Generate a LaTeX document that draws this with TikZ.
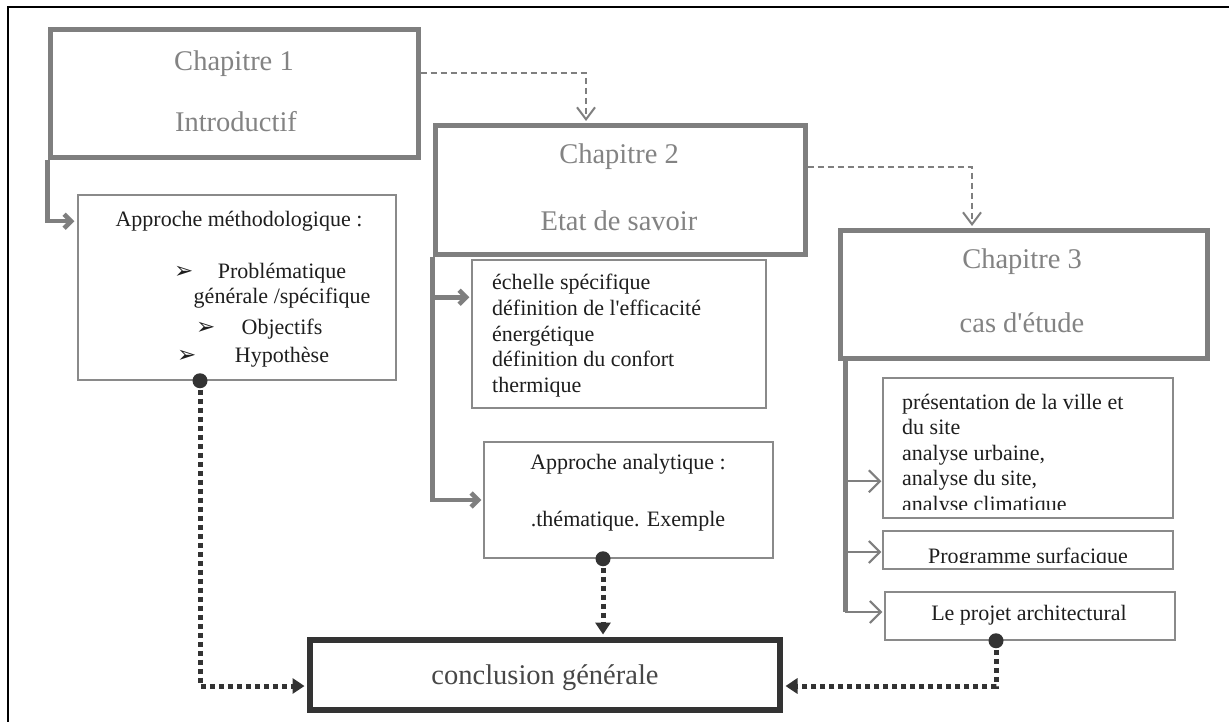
\documentclass[tikz,border=0pt]{standalone}
\usepackage{fontspec}
\setmainfont{Liberation Serif}
\newfontfamily\symfont{DejaVu Sans}
\usetikzlibrary{arrows.meta}
\definecolor{chapgray}{HTML}{7F7F7F}
\definecolor{titlegray}{HTML}{838383}
\definecolor{boxgray}{HTML}{8A8A8A}
\definecolor{inkdark}{HTML}{1E1E1E}
\definecolor{dotdark}{HTML}{333333}
\begin{document}
\begin{tikzpicture}[x=1pt,y=-1pt,
  chapbox/.style={draw=chapgray,line width=5pt,inner sep=0pt,fill=white},
  subbox/.style={draw=boxgray,line width=1.5pt,inner sep=0pt,fill=white},
  finalbox/.style={draw=dotdark,line width=5.5pt,inner sep=0pt,fill=white},
  chaptext/.style={font=\fontsize{28.5}{32}\selectfont,text=titlegray,inner sep=0pt,anchor=base},
  bodytext/.style={font=\fontsize{22}{25}\selectfont,text=inkdark,inner sep=0pt,anchor=base},
  bodyleft/.style={bodytext,anchor=base west},
  finaltext/.style={font=\fontsize{28.5}{32}\selectfont,text=dotdark!90,inner sep=0pt,anchor=base},
  bullet/.style={font=\symfont\fontsize{23}{25}\selectfont,text=inkdark,inner sep=0pt,anchor=base west},
  spinearrow/.style={draw=chapgray,line width=4.5pt,-{Straight Barb[length=7pt,width=14pt]}},
  spineline/.style={draw=chapgray,line width=4.5pt},
  thinarrow/.style={draw=chapgray,line width=2pt,-{Straight Barb[length=11pt,width=22pt]}},
  nextchap/.style={draw=chapgray,line width=2pt,dash pattern=on 6pt off 4pt,-{Straight Barb[length=12pt,width=18pt]},shorten >=2.5pt},
  toend/.style={draw=dotdark,line width=5pt,dash pattern=on 5pt off 4pt,-{Triangle[length=12pt,width=15pt]},shorten >=2.75pt},
  knob/.style={circle,fill=dotdark,inner sep=0pt,minimum size=15pt},
]
\useasboundingbox (0,0) rectangle (1229,722);
\fill[white] (0,0) rectangle (1229,722);

% page frame
\draw[black,line width=2pt] (8,722) -- (8,7) -- (1229,7);

% chapter boxes
\node[chapbox,minimum width=368pt,minimum height=128pt] (ch1) at (234,94) {};
\node[chapbox,minimum width=370pt,minimum height=129pt] (ch2) at (620,190.5) {};
\node[chapbox,minimum width=367pt,minimum height=127pt] (ch3) at (1023.5,294.5) {};

\node[chaptext] (ch1a) at (234,71) {Chapitre 1};
\node[chaptext] (ch1b) at (236,132) {Introductif};
\node[chaptext] (ch2a) at (619,164) {Chapitre 2};
\node[chaptext] (ch2b) at (619,231) {Etat de savoir};
\node[chaptext] (ch3a) at (1022,269) {Chapitre 3};
\node[chaptext] (ch3b) at (1022,332) {cas d\textquotesingle étude};

% content boxes
\node[subbox,minimum width=318pt,minimum height=185pt] (meth) at (237,287.5) {};
\node[subbox,minimum width=294pt,minimum height=148pt] (ech) at (619,334) {};
\node[subbox,minimum width=289pt,minimum height=116pt] (ana) at (628.5,500) {};
\node[subbox,minimum width=290pt,minimum height=140pt] (pres) at (1028,448) {};
\node[subbox,minimum width=290pt,minimum height=38pt] (prog) at (1028,550) {};
\node[subbox,minimum width=290pt,minimum height=48pt] (proj) at (1030,616) {};
\node[finalbox,minimum width=470pt,minimum height=70pt] (concl) at (545,675) {};

% methodological approach
\node[bodytext] (m0) at (239,227) {Approche méthodologique :};
\node[bullet] (b1) at (174,279) {➢};
\node[bodytext] (m1) at (282,279) {Problématique};
\node[bodytext] (m2) at (282,303) {générale /spécifique};
\node[bullet] (b2) at (196,334) {➢};
\node[bodytext] (m3) at (282,334) {Objectifs};
\node[bullet] (b3) at (177,362) {➢};
\node[bodytext] (m4) at (282,362) {Hypothèse};

% state of knowledge
\node[bodyleft] (e1) at (492,289) {échelle spécifique};
\node[bodyleft] (e2) at (492,315) {définition de l\textquotesingle efficacité};
\node[bodyleft] (e3) at (492,341) {énergétique};
\node[bodyleft] (e4) at (492,366) {définition du confort};
\node[bodyleft] (e5) at (492,392) {thermique};

\node[bodytext] (a1) at (628,469) {Approche analytique :};
\node[bodytext] (a2) at (628,526) {.thématique. Exemple};

% case study (text cut at the lower edge of its boxes)
\begin{scope}
  \clip (pres.north west) rectangle ([yshift=9pt]pres.south east);
  \node[bodyleft] (p1) at (902,409) {présentation de la ville et};
  \node[bodyleft] (p2) at (902,434.5) {du site};
  \node[bodyleft] (p3) at (902,460) {analyse urbaine,};
  \node[bodyleft] (p4) at (902,485.5) {analyse du site,};
  \node[bodyleft] (p5) at (902,511) {analyse climatique};
\end{scope}
\begin{scope}
  \clip (prog.north west) rectangle ([yshift=7pt]prog.south east);
  \node[bodytext] (g1) at (1028,563) {Programme surfacique};
\end{scope}
\node[bodytext] (j1) at (1029,620) {Le projet architectural};

\node[finaltext] (c1) at (545,684) {conclusion générale};

% chapter sequence
\coordinate (c1out) at ([yshift=-46pt]ch1.north east);
\coordinate (c2top) at ([xshift=-34pt]ch2.north);
\draw[nextchap] (c1out) -| (c2top);
\coordinate (c2out) at ([yshift=-44pt]ch2.north east);
\coordinate (c3top) at ([xshift=-51.5pt]ch3.north);
\draw[nextchap] (c2out) -| (c3top);

% chapter 1 branch
\coordinate (methin) at ([yshift=-27pt,xshift=-3pt]meth.north west);
\draw[spinearrow] (ch1.south west) |- (methin);

% chapter 2 branches
\coordinate (echin) at ([yshift=-38pt,xshift=-2pt]ech.north west);
\coordinate (anain) at ([xshift=-2pt]ana.west);
\draw[spinearrow] (ch2.south west) |- (anain);
\draw[spinearrow] (ch2.south west |- echin) -- (echin);

% chapter 3 branches
\coordinate (s3) at ([xshift=8pt]ch3.south west);
\coordinate (presin) at ([yshift=-104pt,xshift=-1pt]pres.north west);
\coordinate (progin) at ([yshift=-2pt,xshift=-1pt]prog.west);
\coordinate (projin) at ([yshift=4pt,xshift=-2pt]proj.west);
\draw[spineline] (s3) -- (s3 |- projin);
\draw[thinarrow] (s3 |- presin) -- (presin);
\draw[thinarrow] (s3 |- progin) -- (progin);
\draw[thinarrow] ([xshift=-1pt]s3 |- projin) -- (projin);

% links to the conclusion
\coordinate (k1) at ([xshift=-37pt]meth.south);
\coordinate (k2) at ([xshift=-25.5pt]ana.south);
\coordinate (k3) at ([xshift=-34pt]proj.south);
\draw[toend] (k1) |- ([yshift=-11pt]concl.west);
\draw[toend] (k2) -- (k2 |- concl.north);
\draw[toend] (k3) |- ([yshift=-11pt]concl.east);
\node[knob] (knob1) at (k1) {};
\node[knob] (knob2) at (k2) {};
\node[knob] (knob3) at (k3) {};
\end{tikzpicture}
\end{document}
